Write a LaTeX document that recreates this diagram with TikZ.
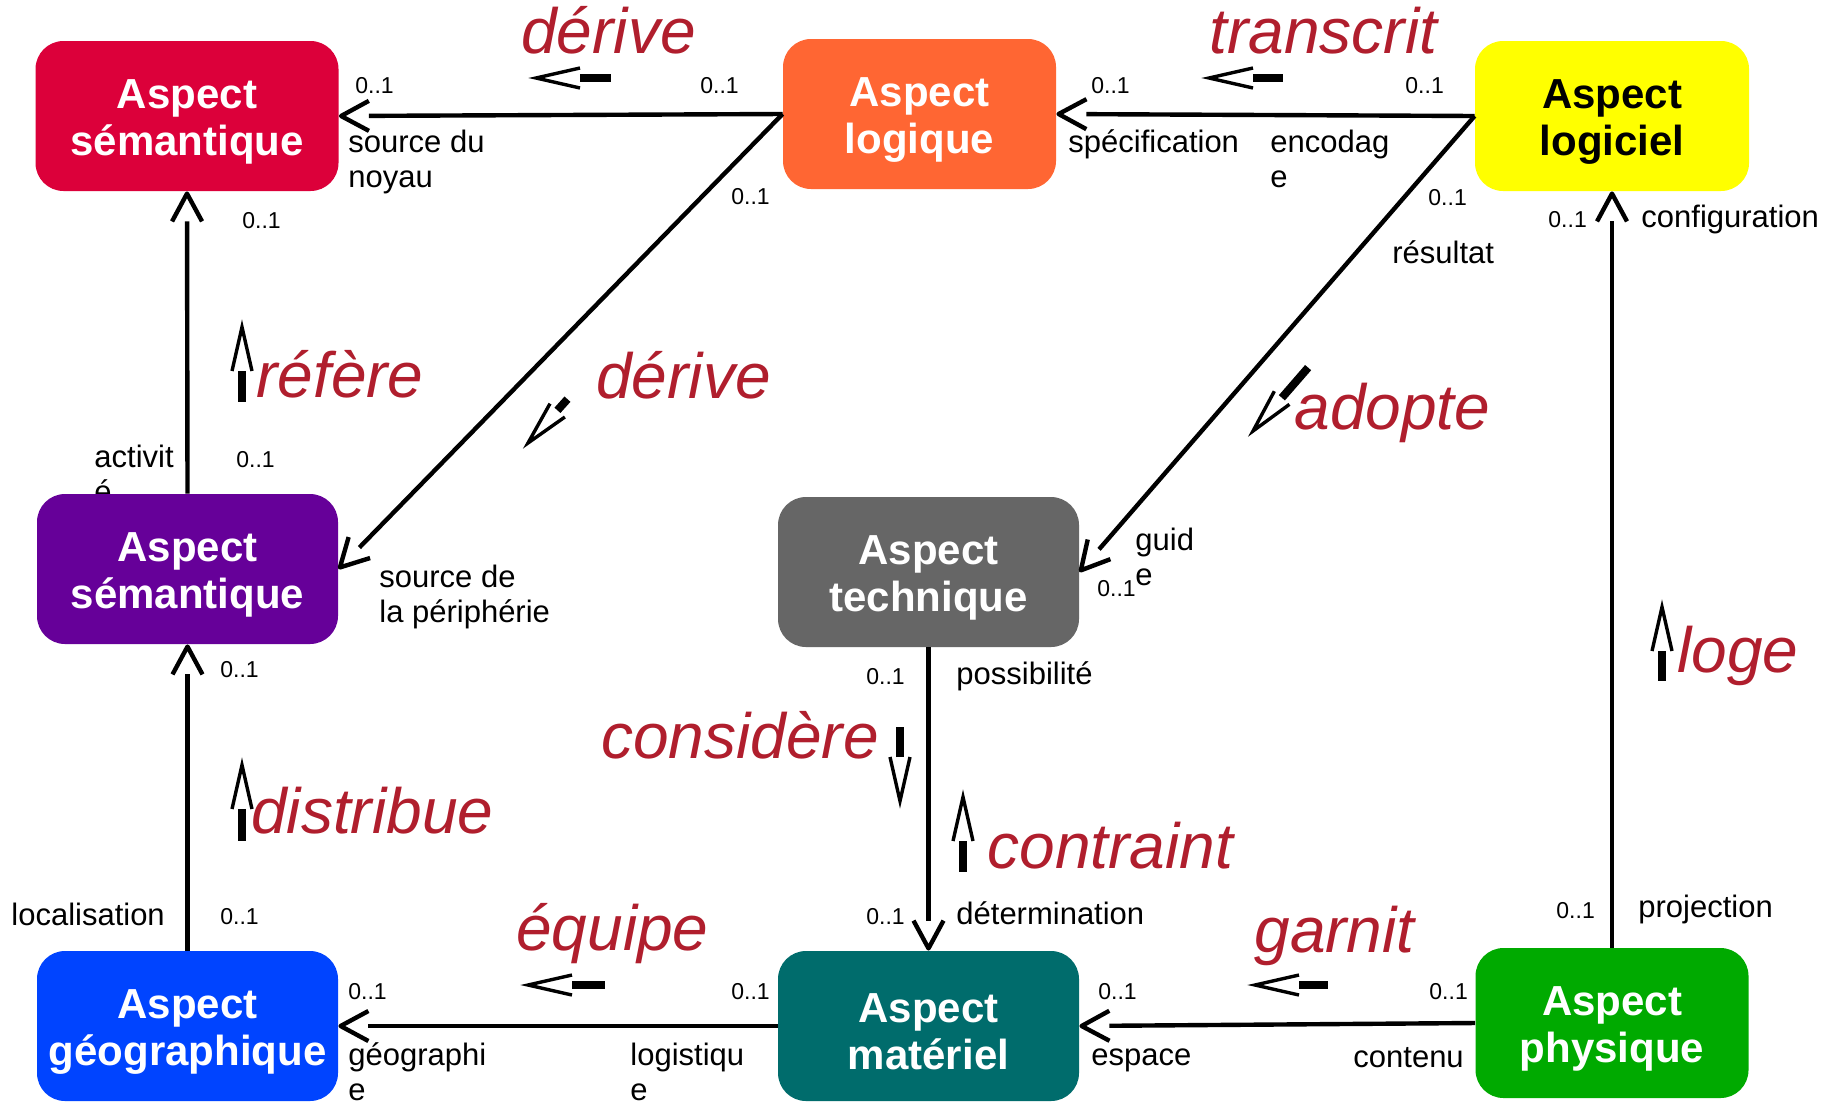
\documentclass[tikz,border=0pt]{standalone}
\usepackage{fontspec}
\setmainfont{Liberation Sans}
\usetikzlibrary{arrows.meta}
\pgfdeclarearrow{
  name = OpenVee,
  parameters = {\the\pgfarrowlength,\the\pgfarrowwidth},
  setup code = {
    \pgfarrowssettipend{0pt}
    \pgfarrowssetlineend{-\pgfarrowlength}
    \pgfarrowssetbackend{-\pgfarrowlength}
    \pgfarrowshullpoint{0pt}{0pt}
    \pgfarrowshullpoint{-\pgfarrowlength}{.5\pgfarrowwidth}
    \pgfarrowshullpoint{-\pgfarrowlength}{-.5\pgfarrowwidth}
    \pgfarrowssavethe\pgfarrowlength
    \pgfarrowssavethe\pgfarrowwidth
  },
  drawing code = {
    \pgfsetdash{}{0pt}
    \pgfsetroundjoin
    \pgfpathmoveto{\pgfqpoint{-\pgfarrowlength}{.5\pgfarrowwidth}}
    \pgfpathlineto{\pgfqpoint{-1.1pt}{0pt}}
    \pgfpathlineto{\pgfqpoint{-\pgfarrowlength}{-.5\pgfarrowwidth}}
    \pgfusepathqstroke
  },
  defaults = {length = 15pt, width = 15pt}
}
\definecolor{cSemR}{HTML}{DC003A}
\definecolor{cLog}{HTML}{FF6633}
\definecolor{cLogi}{HTML}{FFFF00}
\definecolor{cSemP}{HTML}{660099}
\definecolor{cTech}{HTML}{666666}
\definecolor{cGeo}{HTML}{0044FF}
\definecolor{cMat}{HTML}{006C6C}
\definecolor{cPhys}{HTML}{00AA00}
\definecolor{cVerb}{HTML}{B01E2D}
\newcommand\dgBoxFont{\fontsize{21}{23.5}\selectfont\bfseries}
\newcommand\dgRoleFont{\fontsize{15.5}{17.5}\selectfont}
\newcommand\dgMultFont{\fontsize{11.5}{13}\selectfont}
\newcommand\dgVerbFont{\fontsize{32}{36}\selectfont\itshape}
\newcommand\dgTwo[2]{\vtop{\hbox{#1}\hbox{#2}}}
\newcommand\dgBox[2]{\rule{0pt}{20.3pt}#1\\#2}
\begin{document}
\begin{tikzpicture}[x=0.5pt, y=-0.5pt,
  aspect/.style={rounded corners=14pt, minimum height=75pt, inner sep=0pt,
    align=center, font=\dgBoxFont, text=white},
  role/.style={font=\dgRoleFont, anchor=base west, inner sep=0pt},
  mult/.style={font=\dgMultFont, anchor=base west, inner sep=0pt},
  verb/.style={font=\dgVerbFont, text=cVerb, anchor=base west, inner sep=0pt},
  conn/.style={line width=2.2pt, -{OpenVee[length=15pt,width=15pt]}},
  dirbar/.style={line width=4pt},
  dirhead/.style={line width=1.7pt, line join=miter},
  barlen/.store in=\dirbarlen, barlen=30,
  dirmark/.pic={
    \draw[dirbar] (-44,0) -- ({-44-\dirbarlen},0);
    \draw[dirhead] (-44,10) -- (0,0) -- (-44,-10);
  }
]
\useasboundingbox[fill=white] (0,0) rectangle (1839,1104);

% label hidden partly behind a box
\node[role] (lActivite) at (94,467) {\dgTwo{activit}{é}};

% boxes
\node[aspect, fill=cSemR, minimum width=151.5pt] (semR) at (187,116) {\dgBox{Aspect}{sémantique}};
\node[aspect, fill=cLog, minimum width=136.5pt] (logique) at (919.5,114) {\dgBox{Aspect}{logique}};
\node[aspect, fill=cLogi, text=black, minimum width=137pt] (logiciel) at (1612,116) {\dgBox{Aspect}{logiciel}};
\node[aspect, fill=cSemP, minimum width=150.5pt] (semP) at (187.5,569) {\dgBox{Aspect}{sémantique}};
\node[aspect, fill=cTech, minimum width=150.5pt] (technique) at (928.5,572) {\dgBox{Aspect}{technique}};
\node[aspect, fill=cGeo, minimum width=150.5pt] (geo) at (187.5,1026) {\dgBox{Aspect}{géographique}};
\node[aspect, fill=cMat, minimum width=150.5pt] (materiel) at (928.5,1026) {\dgBox{Aspect}{matériel}};
\node[aspect, fill=cPhys, minimum width=136.5pt] (physique) at (1612,1023) {\dgBox{Aspect}{physique}};

% connectors
\draw[conn] (logique.west) -- (semR.east);
\draw[conn] (logiciel.west) -- (logique.east);
\draw[conn] (logique.west) -- (semP.east);
\draw[conn] (logiciel.west) -- (technique.east);
\draw[conn] (semP.north) -- (semR.south);
\draw[conn] (geo.north) -- (semP.south);
\draw[conn] (physique.north) -- (logiciel.south);
\draw[conn] (technique.south) -- (materiel.north);
\draw[conn] (materiel.west) -- (geo.east);
\draw[conn] (physique.west) -- (materiel.east);

% role labels
\node[role] (lSrcNoyau) at (348,152) {\dgTwo{source du}{noyau}};
\node[role] (lSpec) at (1068,152) {spécification};
\node[role] (lEncod) at (1270,152) {\dgTwo{encodag}{e}};
\node[role] (lResult) at (1392,263) {résultat};
\node[role] (lConfig) at (1641,227) {configuration};
\node[role] (lSrcPeri) at (379,587) {\dgTwo{source de}{la périphérie}};
\node[role] (lGuide) at (1135,550) {\dgTwo{guid}{e}};
\node[role] (lPossib) at (956,684) {possibilité};
\node[role] (lLocal) at (11,925) {localisation};
\node[role] (lDeterm) at (956,924) {détermination};
\node[role] (lProj) at (1638,917) {projection};
\node[role] (lGeogr) at (348,1065) {\dgTwo{géographi}{e}};
\node[role] (lLogist) at (630,1065) {\dgTwo{logistiqu}{e}};
\node[role] (lEspace) at (1091,1065) {espace};
\node[role] (lContenu) at (1353,1067) {contenu};

% multiplicities
\node[mult] (m1) at (355,93) {0..1};
\node[mult] (m2) at (700,93) {0..1};
\node[mult] (m3) at (1091,93) {0..1};
\node[mult] (m4) at (1405,93) {0..1};
\node[mult] (m5) at (731,204) {0..1};
\node[mult] (m6) at (242,228) {0..1};
\node[mult] (m7) at (1428,205) {0..1};
\node[mult] (m8) at (1548,227) {0..1};
\node[mult] (m9) at (236,467) {0..1};
\node[mult] (m10) at (1097,596) {0..1};
\node[mult] (m11) at (220,677) {0..1};
\node[mult] (m12) at (866,684) {0..1};
\node[mult] (m13) at (220,924) {0..1};
\node[mult] (m14) at (866,924) {0..1};
\node[mult] (m15) at (1556,918) {0..1};
\node[mult] (m16) at (348,999) {0..1};
\node[mult] (m17) at (731,999) {0..1};
\node[mult] (m18) at (1098,999) {0..1};
\node[mult] (m19) at (1429,999) {0..1};

% verbs
\node[verb] (vDerive1) at (521,53) {dérive};
\node[verb] (vTranscrit) at (1209,53) {transcrit};
\node[verb] (vRefere) at (256,397) {réfère};
\node[verb] (vDerive2) at (596,398) {dérive};
\node[verb] (vAdopte) at (1294,429) {adopte};
\node[verb] (vLoge) at (1677,672) {loge};
\node[verb] (vConsidere) at (601,758) {considère};
\node[verb] (vContraint) at (987,868) {contraint};
\node[verb] (vDistribue) at (251,833) {distribue};
\node[verb] (vEquipe) at (516,950) {équipe};
\node[verb] (vGarnit) at (1254,952) {garnit};

% reading direction marks
\pic[rotate=180, barlen=31] at (536,78) {dirmark};
\pic[rotate=180, barlen=30] at (1209,78) {dirmark};
\pic[rotate=90, barlen=31] at (242,327) {dirmark};
\pic[rotate=228, barlen=15] at (528,443) {dirmark};
\pic[rotate=229, barlen=40] at (1253,431) {dirmark};
\pic[rotate=90, barlen=30] at (1662,607) {dirmark};
\pic[rotate=270, barlen=30] at (900,801) {dirmark};
\pic[rotate=90, barlen=31] at (963,797) {dirmark};
\pic[rotate=90, barlen=32] at (242,765) {dirmark};
\pic[rotate=180, barlen=33] at (528,985) {dirmark};
\pic[rotate=180, barlen=29] at (1255,985) {dirmark};
\end{tikzpicture}
\end{document}
